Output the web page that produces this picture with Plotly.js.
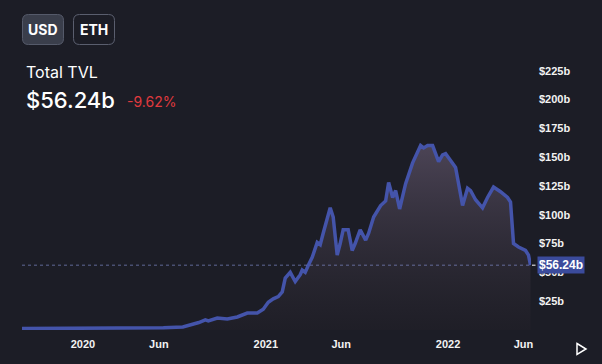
<!DOCTYPE html>
<html>
<head>
<meta charset="utf-8">
<script src="https://cdn.plot.ly/plotly-3.0.1.min.js"></script>
<style>
html,body{margin:0;padding:0;background:#1c1d26;overflow:hidden;}
#chart{width:602px;height:364px;}
</style>
</head>
<body>
<div id="chart"></div>
<script>
// ---- data ----
const dates = [
 '2019-09-01','2019-12-01','2020-03-01','2020-05-01','2020-06-10','2020-07-19','2020-08-09','2020-08-20',
 '2020-09-02','2020-09-08','2020-09-26','2020-10-16','2020-11-05','2020-11-25','2020-12-15','2020-12-27',
 '2021-01-06','2021-01-16','2021-01-26','2021-02-03','2021-02-09','2021-02-19','2021-03-01','2021-03-11',
 '2021-03-15','2021-03-21','2021-03-27','2021-04-04','2021-04-14','2021-04-20','2021-04-26','2021-05-04',
 '2021-05-10','2021-05-16','2021-05-24','2021-05-30','2021-06-05','2021-06-15','2021-06-23','2021-06-29',
 '2021-07-09','2021-07-20','2021-07-26','2021-08-05','2021-08-19','2021-08-29','2021-09-04','2021-09-12',
 '2021-09-18','2021-09-26','2021-10-04','2021-10-08','2021-10-22','2021-11-07','2021-11-13','2021-11-21',
 '2021-12-01','2021-12-07','2021-12-13','2021-12-21','2021-12-27','2022-01-06','2022-01-16','2022-01-22',
 '2022-01-30','2022-02-09','2022-02-15','2022-02-25','2022-03-11','2022-03-21','2022-04-02','2022-04-16',
 '2022-04-30','2022-05-06','2022-05-12','2022-05-22','2022-06-05','2022-06-11','2022-06-15'
];
const tvl = [
 1.2,1.3,1.4,1.6,2.0,2.6,5,6.5,
 8.7,7.8,10.4,9.5,11.3,14.7,14.7,18,
 24,27,29,33,45,50,42,48,
 52,50,56,63,76,74,84,98,
 106,98,65,75,87,87,69,75,
 87,78,84,98,108,112,128,115,
 121,105,118,127,145,160,158,160,
 160,153,146,152,153,147,141,127,
 108,123,121,113,106,115,124,120,
 115,111,75,72,69,65,56.24
];
const currentValue = 56.24;
const yTickVals = [25,50,75,100,125,150,175,200,225];
const yTickText = ['$25b','$50b','$75b','$100b','$125b','$150b','$175b','$200b','$225b'];
const xTickVals = ['2020-01-01','2020-06-01','2021-01-01','2021-06-01','2022-01-01','2022-06-01'];
const xTickText = ['2020','Jun','2021','Jun','2022','Jun'];
const headerTitle = 'Total TVL';
const headerValue = '$56.24b';
const headerChange = '-9.62%';
const currencies = ['USD','ETH'];

// ---- layout helpers (pixel -> paper) ----
const M = {l:22, r:71, t:58, b:34};
const W = 602, H = 364;
const PW = W - M.l - M.r, PH = H - M.t - M.b;
const px = x => (x - M.l) / PW;
const py = y => (H - M.b - y) / PH;
function roundRect(x0,y0,x1,y1,r){
  const P=(x,y)=>px(x)+','+py(y);
  return 'M'+P(x0+r,y0)+' L'+P(x1-r,y0)+' Q'+P(x1,y0)+' '+P(x1,y0+r)+
         ' L'+P(x1,y1-r)+' Q'+P(x1,y1)+' '+P(x1-r,y1)+
         ' L'+P(x0+r,y1)+' Q'+P(x0,y1)+' '+P(x0,y1-r)+
         ' L'+P(x0,y0+r)+' Q'+P(x0,y0)+' '+P(x0+r,y0)+' Z';
}

const trace = {
  x: dates, y: tvl, type:'scatter', mode:'lines',
  line:{color:'#4454aa', width:3.5},
  fill:'tozeroy',
  fillgradient:{type:'vertical', colorscale:[[0,'rgba(34,32,40,0.5)'],[1,'rgba(78,70,88,0.95)']]},
  hoverinfo:'skip'
};

const font = 'Inter, "Liberation Sans", sans-serif';
const layout = {
  width:W, height:H,
  margin:M,
  paper_bgcolor:'#1c1d26', plot_bgcolor:'#1c1d26',
  showlegend:false,
  xaxis:{type:'date', range:['2019-09-01','2022-06-16'], tickvals:xTickVals, ticktext:xTickText,
    showgrid:false, zeroline:false, showline:false, ticks:'', ticklabelstandoff:6,
    tickfont:{family:'"Liberation Sans", Arial, sans-serif', size:11, color:'#f2f2f2', weight:'bold'}},
  yaxis:{range:[0,236], side:'right', tickvals:yTickVals, ticktext:yTickText,
    showgrid:false, zeroline:false, showline:false, ticks:'', ticklabelstandoff:7,
    tickfont:{family:'"Liberation Sans", Arial, sans-serif', size:11, color:'#f2f2f2', weight:'bold'}},
  shapes:[
    {type:'line', xref:'paper', yref:'y', x0:0, x1:px(530), y0:currentValue, y1:currentValue,
     line:{color:'rgba(125,135,200,0.7)', width:1, dash:'dot'}, layer:'above'},
    {type:'line', xref:'paper', yref:'y', x0:px(532), x1:px(535.5), y0:currentValue, y1:currentValue,
     line:{color:'#ffffff', width:1}},
    {type:'path', xref:'paper', yref:'paper', path:roundRect(22.5,14.5,63.5,44.5,6),
     fillcolor:'#3a3e4b', line:{color:'#555a6a', width:1}},
    {type:'path', xref:'paper', yref:'paper', path:roundRect(73.5,14.5,114.5,44.5,6),
     fillcolor:'#1c1d26', line:{color:'#5a5e6e', width:1}},
    {type:'path', xref:'paper', yref:'paper',
     path:'M'+px(577)+','+py(343.5)+' L'+px(586)+','+py(349)+' L'+px(577)+','+py(354.5)+' Z',
     line:{color:'#ffffff', width:1.5}, fillcolor:'rgba(0,0,0,0)'}
  ],
  annotations:[
    {xref:'paper', yref:'paper', x:px(43), y:py(29.5), text:currencies[0], showarrow:false,
     xanchor:'center', yanchor:'middle', font:{family:font, size:14, color:'#ffffff', weight:'bold'}},
    {xref:'paper', yref:'paper', x:px(94), y:py(29.5), text:currencies[1], showarrow:false,
     xanchor:'center', yanchor:'middle', font:{family:font, size:14, color:'#ffffff', weight:'bold'}},
    {xref:'paper', yref:'paper', x:px(24), y:py(72), text:headerTitle, showarrow:false,
     xanchor:'left', yanchor:'middle', font:{family:font, size:16, color:'#ffffff'}},
    {xref:'paper', yref:'paper', x:px(24), y:py(100), text:headerValue, showarrow:false,
     xanchor:'left', yanchor:'middle', font:{family:font, size:22, color:'#ffffff', weight:500}},
    {xref:'paper', yref:'paper', x:px(125), y:py(101.5), text:headerChange, showarrow:false,
     xanchor:'left', yanchor:'middle', font:{family:font, size:14, color:'#e03a3e'}},
    {xref:'paper', yref:'y', x:px(537), y:currentValue, text:'$'+currentValue.toFixed(2)+'b', showarrow:false,
     xanchor:'left', yanchor:'middle', bgcolor:'#3b4b9c', borderpad:1,
     font:{family:'"Liberation Sans", Arial, sans-serif', size:12, color:'#ffffff', weight:'bold'}}
  ]
};

Plotly.newPlot('chart',[trace],layout,{displayModeBar:false, staticPlot:true});
</script>
</body>
</html>
